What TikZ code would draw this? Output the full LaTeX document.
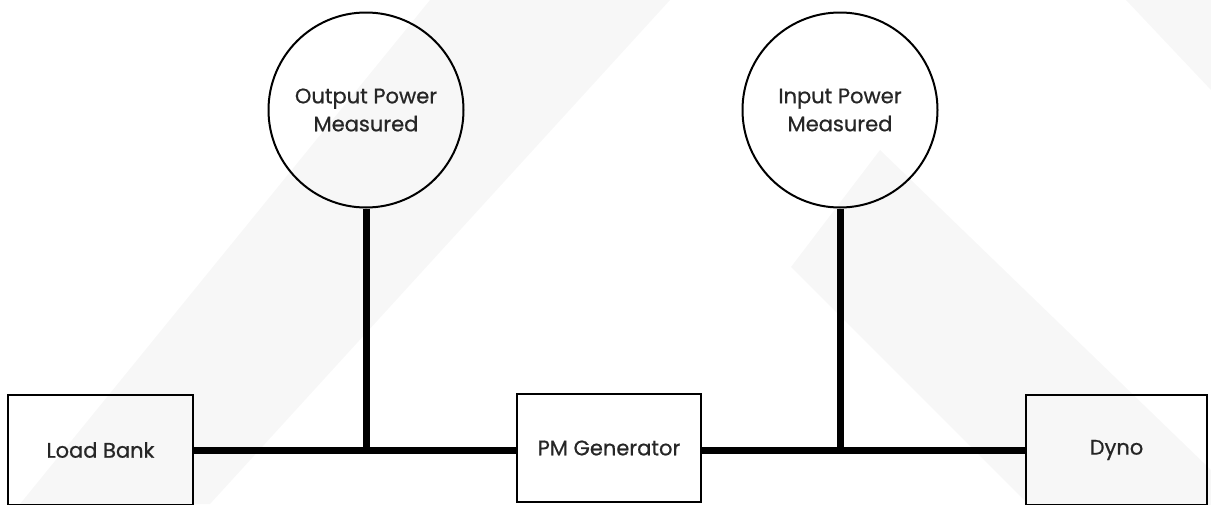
\documentclass[tikz,border=0pt]{standalone}
\usepackage{fontspec}
\setmainfont{Poppins}[FakeBold=0.7]
\begin{document}
\begin{tikzpicture}[x=1pt,y=-1pt,
  every node/.style={text=black!85,font=\fontsize{21}{28}\selectfont},
  unit/.style={draw,line width=2.5pt,minimum width=184pt,minimum height=110pt,inner sep=0pt},
  meter/.style={draw,circle,line width=2pt,minimum size=195pt,align=center,inner sep=0pt},
  bus/.style={line width=7pt}]
\useasboundingbox (0,0) rectangle (1211,504);
\clip (0,0) rectangle (1211,504);
% faint background bands
\fill[black!3] (430,0) -- (670,0) -- (210,504) -- (20,504) -- cycle;
\fill[black!3] (791,267) -- (880,150) -- (1211,470) -- (1211,541) -- (1065,541) -- cycle;
\fill[black!3] (1126,0) -- (1211,0) -- (1211,90) -- cycle;
% blocks
\node[unit,minimum width=185pt] (load) at (100.5,450) {Load Bank};
\node[unit,minimum height=108pt] (pmgen) at (609,448) {PM Generator};
\node[unit,minimum width=181pt] (dyno) at (1116.5,450) {Dyno};
\node[meter] (outpow) at (366,110) {Output Power\\Measured};
\node[meter] (inpow) at (840,110) {Input Power\\Measured};
% wiring
\draw[bus] (load.east) -- (load.east -| pmgen.west);
\draw[bus] (pmgen.east |- load.east) -- (dyno.west);
\draw[bus] (outpow) -- (outpow |- load.east);
\draw[bus] (inpow) -- (inpow |- load.east);
\end{tikzpicture}
\end{document}
